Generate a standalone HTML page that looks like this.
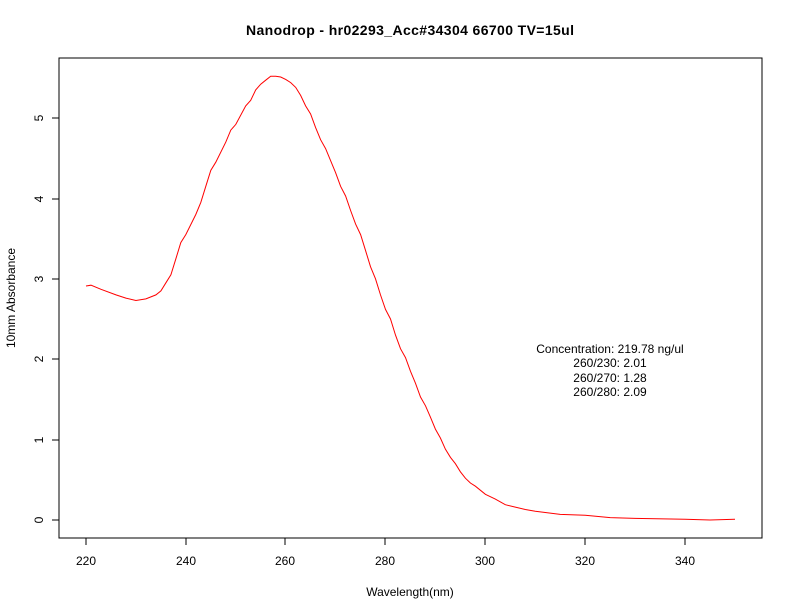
<!DOCTYPE html>
<html><head><meta charset="utf-8"><style>
body{margin:0;background:#fff}
svg{display:block;font-family:"Liberation Sans",sans-serif}
</style></head><body>
<svg id="s" width="792" height="612" xmlns="http://www.w3.org/2000/svg">
<rect x="0" y="0" width="792" height="612" fill="#fff"/>
<text x="246" y="35" textLength="328" font-size="14" font-weight="bold">Nanodrop - hr02293_Acc#34304 66700  TV=15ul</text>
<rect x="59" y="58" width="703" height="480" fill="none" stroke="#000" stroke-width="1"/>
<g stroke="#000">
<line x1="86" y1="538" x2="685" y2="538"/>
<line x1="86" y1="538" x2="86" y2="545"/>
<line x1="186" y1="538" x2="186" y2="545"/>
<line x1="285" y1="538" x2="285" y2="545"/>
<line x1="385" y1="538" x2="385" y2="545"/>
<line x1="485" y1="538" x2="485" y2="545"/>
<line x1="585" y1="538" x2="585" y2="545"/>
<line x1="685" y1="538" x2="685" y2="545"/>
<line x1="59" y1="520" x2="59" y2="118"/>
<line x1="52" y1="520" x2="59" y2="520"/>
<line x1="52" y1="440" x2="59" y2="440"/>
<line x1="52" y1="359" x2="59" y2="359"/>
<line x1="52" y1="279" x2="59" y2="279"/>
<line x1="52" y1="199" x2="59" y2="199"/>
<line x1="52" y1="118" x2="59" y2="118"/>
</g>
<g font-size="12" text-anchor="middle">
<text x="86" y="565">220</text><text x="186" y="565">240</text><text x="285" y="565">260</text>
<text x="385" y="565">280</text><text x="485" y="565">300</text><text x="585" y="565">320</text><text x="685" y="565">340</text>
<text x="410" y="596">Wavelength(nm)</text>
<g transform="rotate(-90)">
<text x="-520" y="43">0</text><text x="-440" y="43">1</text><text x="-359" y="43">2</text>
<text x="-279" y="43">3</text><text x="-199" y="43">4</text><text x="-118" y="43">5</text>
<text x="-298" y="15">10mm Absorbance</text>
</g>
<text x="610" y="353">Concentration: 219.78 ng/ul</text>
<text x="610" y="367">260/230: 2.01</text>
<text x="610" y="382">260/270: 1.28</text>
<text x="610" y="396">260/280: 2.09</text>
</g>
<polyline id="c" fill="none" stroke="#f00" stroke-width="1"/>
</svg>
<script>
var d=[[220,2.91],[221,2.92],[223,2.87],[226,2.8],[228,2.76],[230,2.73],[232,2.75],[234,2.8],[235,2.85],[236,2.95],[237,3.05],[238,3.25],[239,3.45],[240,3.55],[242,3.8],[243,3.95],[244,4.15],[245,4.35],[246,4.45],[248,4.7],[249,4.85],[250,4.92],[252,5.15],[253,5.22],[254,5.35],[255,5.42],[256,5.47],[257,5.52],[258,5.52],[259,5.51],[260,5.48],[261,5.44],[262,5.38],[263,5.28],[264,5.15],[265,5.05],[266,4.88],[267,4.73],[268,4.62],[270,4.32],[271,4.15],[272,4.03],[273,3.85],[274,3.68],[275,3.55],[276,3.35],[277,3.15],[278,3.0],[279,2.8],[280,2.62],[281,2.5],[282,2.3],[283,2.13],[284,2.02],[285,1.85],[286,1.7],[287,1.53],[288,1.42],[289,1.28],[290,1.13],[291,1.02],[292,0.88],[293,0.78],[294,0.7],[295,0.6],[296,0.52],[297,0.46],[298,0.42],[300,0.32],[302,0.26],[304,0.19],[306,0.16],[308,0.13],[310,0.11],[315,0.07],[320,0.06],[325,0.03],[330,0.02],[340,0.01],[345,0.0],[350,0.01]];
document.getElementById('c').setAttribute('points',d.map(function(p){return (86+(p[0]-220)*4.992).toFixed(1)+','+(520-p[1]*80.4).toFixed(1)}).join(' '));
</script>
</body></html>
